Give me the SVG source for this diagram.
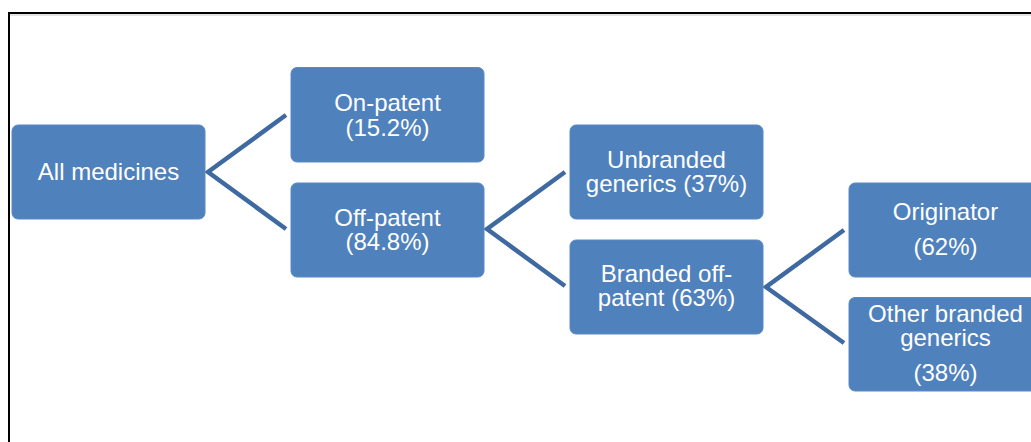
<svg xmlns="http://www.w3.org/2000/svg" width="1031" height="442" viewBox="0 0 1031 442">
  <style>
    .box { fill: #4f81bd; stroke: #5a8ac4; stroke-width: 1; }
    .lbl { fill: #ffffff; font-family: "Liberation Sans", Arial, sans-serif; font-size: 24px; text-anchor: middle; }
    .conn { fill: none; stroke: #3f6aa1; stroke-width: 4.5; stroke-linejoin: miter; }
  </style>
  <rect x="0" y="0" width="1031" height="442" fill="#ffffff"/>
  <rect x="9" y="13" width="1040" height="450" fill="none" stroke="#000000" stroke-width="2"/>
  <line x1="10" y1="15" x2="1031" y2="15" stroke="#c8c8c8" stroke-width="1"/>

  <g id="connectors">
    <polyline class="conn" points="286,115 208,172 286,229"/>
    <polyline class="conn" points="565,172 487,229 565,286"/>
    <polyline class="conn" points="844,230 766,287 844,343"/>
  </g>

  <g id="all-medicines">
    <rect class="box" x="12" y="125" width="193" height="94" rx="6"/>
    <text class="lbl" x="108.5" y="180">All medicines</text>
  </g>
  <g id="on-patent">
    <rect class="box" x="291" y="67.5" width="193" height="94.5" rx="6"/>
    <text class="lbl" x="387.5" y="110.5">On-patent</text>
    <text class="lbl" x="387.5" y="135.5">(15.2%)</text>
  </g>
  <g id="off-patent">
    <rect class="box" x="291" y="183" width="193" height="94" rx="6"/>
    <text class="lbl" x="387.5" y="225.5">Off-patent</text>
    <text class="lbl" x="387.5" y="249.5">(84.8%)</text>
  </g>
  <g id="unbranded-generics">
    <rect class="box" x="570" y="125" width="193" height="94" rx="6"/>
    <text class="lbl" x="666.5" y="168">Unbranded</text>
    <text class="lbl" x="666.5" y="192">generics (37%)</text>
  </g>
  <g id="branded-off-patent">
    <rect class="box" x="570" y="240" width="193" height="94" rx="6"/>
    <text class="lbl" x="666.5" y="282">Branded off-</text>
    <text class="lbl" x="666.5" y="306">patent (63%)</text>
  </g>
  <g id="originator">
    <rect class="box" x="849" y="183" width="193" height="94" rx="6"/>
    <text class="lbl" x="945.5" y="220">Originator</text>
    <text class="lbl" x="945.5" y="255">(62%)</text>
  </g>
  <g id="other-branded-generics">
    <rect class="box" x="849" y="297.5" width="193" height="93.5" rx="6"/>
    <text class="lbl" x="945.5" y="322">Other branded</text>
    <text class="lbl" x="945.5" y="346">generics</text>
    <text class="lbl" x="945.5" y="381">(38%)</text>
  </g>
</svg>
